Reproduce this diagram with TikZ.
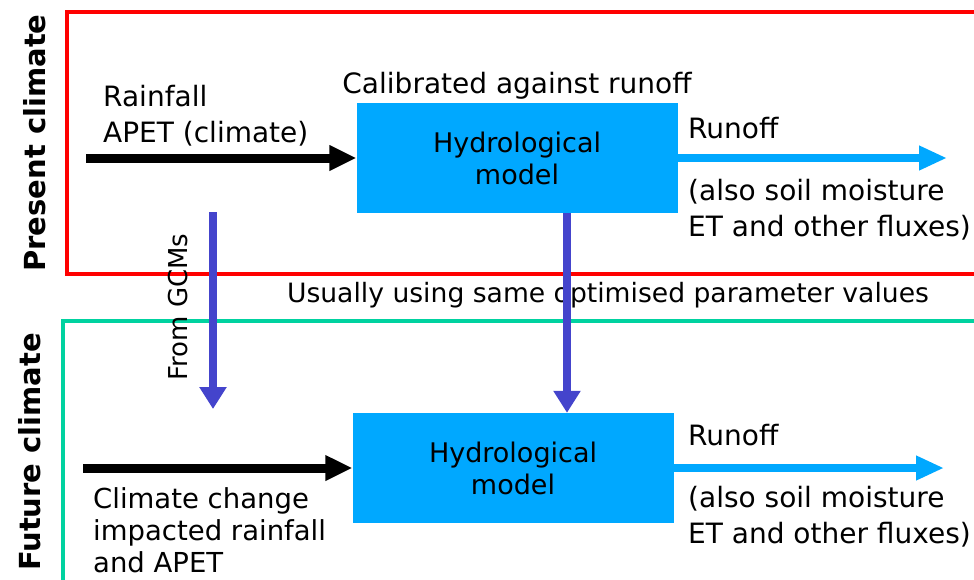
\documentclass[tikz,border=0pt]{standalone}
\usepackage{fontspec}
\setmainfont{DejaVu Sans}
\usetikzlibrary{positioning,arrows.meta}
\definecolor{modelcyan}{RGB}{0,168,255}
\definecolor{linkblue}{RGB}{68,68,204}
\definecolor{futuregreen}{RGB}{0,210,160}
\definecolor{presentred}{RGB}{255,0,0}

\begin{document}
\begin{tikzpicture}[
    x=1pt, y=-1pt,
    model/.style={
        rectangle, fill=modelcyan, inner sep=0pt,
        minimum width=321pt, minimum height=110pt,
        align=center, font=\fontsize{27}{32}\selectfont
    },
    label/.style={inner sep=0pt, align=left, font=\fontsize{28}{36}\selectfont},
    side/.style={inner sep=0pt, rotate=90, font=\fontsize{29}{34}\selectfont\bfseries},
    inarrow/.style={-{Triangle[length=27pt,width=24pt]}, line width=9pt, black},
    outarrow/.style={-{Triangle[length=28pt,width=23pt]}, line width=8pt, modelcyan},
    linkarrow/.style={-{Triangle[length=22pt,width=26pt]}, line width=8.5pt, linkblue}
]
\clip (0,0) rectangle (974,579);

% climate frames
\draw[presentred, line width=4pt] (990,12) -- (67,12) -- (67,274) -- (990,274);
\draw[futuregreen, line width=4.5pt] (990,321) -- (63,321) -- (63,600);
\node[side] (present) at (35,143) {Present climate};
\node[side] (future) at (30,452) {Future climate};

% present climate
\node[model] (hydro1) at (517,158) {Hydrological\\model};
\node[label, above=3pt of hydro1] (calib) {Calibrated against runoff};
\node[label, anchor=west] (inputs) at (103,116) {Rainfall\\APET (climate)};
\coordinate (in1) at (86,158);
\coordinate (out1) at (947,158);
\node[label, anchor=west] (runoff1) at (688,128) {Runoff};
\node[label, anchor=west] (fluxes1) at (688,210) {(also soil moisture\\ET and other fluxes)};

% future climate
\node[model] (hydro2) at (513,468) {Hydrological\\model};
\node[label, anchor=west, font=\fontsize{27.5}{32}\selectfont] (ccinputs) at (93,530) {Climate change\\impacted rainfall\\and APET};
\coordinate (in2) at (83,468);
\coordinate (out2) at (944,468);
\node[label, anchor=west] (runoff2) at (688,435) {Runoff};
\node[label, anchor=west] (fluxes2) at (688,517) {(also soil moisture\\ET and other fluxes)};

% links between the two
\node[label, font=\fontsize{26.6}{32}\selectfont] (params) at (608,295) {Usually using same optimised parameter values};
\node[label, rotate=90, font=\fontsize{26}{32}\selectfont] (gcm) at (178,307) {From GCMs};
\coordinate (gcmtop) at (213,212);
\coordinate (gcmend) at (213,409);

\draw[inarrow] (in1) -- (hydro1.west);
\draw[outarrow] (hydro1.east) -- (out1);
\draw[inarrow] (in2) -- (hydro2.west);
\draw[outarrow] (hydro2.east) -- (out2);
\draw[linkarrow] (gcmtop) -- (gcmend);
\draw[linkarrow] (hydro1.south -| 567,0) -- (hydro2.north -| 567,0);

\end{tikzpicture}
\end{document}
